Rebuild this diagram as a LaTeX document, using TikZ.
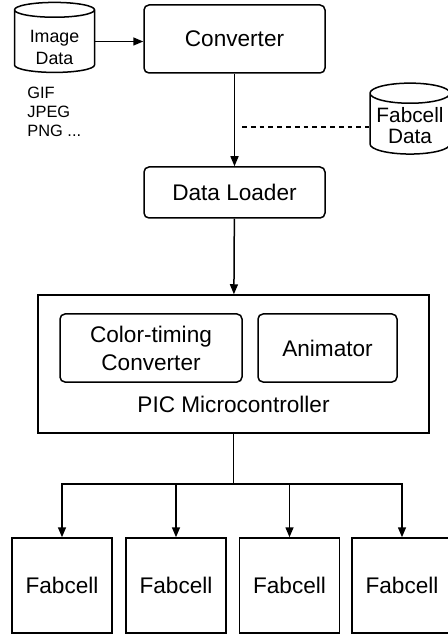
\documentclass[tikz,border=0pt]{standalone}
\usepackage{fontspec}
\setmainfont{Liberation Sans}
\usetikzlibrary{shapes, arrows.meta, positioning}

\tikzset{
    caja/.style={draw, rounded corners=2.5pt, line width=0.75pt, inner sep=0pt,
        align=center, font=\fontsize{11.3}{14}\selectfont},
    celda/.style={draw, line width=0.75pt, inner sep=0pt, minimum width=50pt,
        minimum height=47.5pt, font=\fontsize{11.3}{14}\selectfont},
    datos/.style={draw, cylinder, shape border rotate=90, aspect=0.3,
        line width=0.75pt, inner sep=0pt, align=center, text depth=0pt},
    flecha/.style={-{Triangle[length=5pt,width=4pt]}, line width=0.75pt}
}

\begin{document}
\begin{tikzpicture}[x=0.5pt, y=-0.5pt]
    \useasboundingbox (0,0) rectangle (448,635);
    % Entrada de imagen
    \node[datos, minimum width=40pt, minimum height=33.5pt, text height=23.5pt,
        font=\fontsize{8.9}{11}\selectfont] (img) at (54.5,41.5) {Image\\Data};
    \node[caja, minimum width=90.5pt, minimum height=34pt] (conv) at (234.5,39) {Converter};
    \node[anchor=north west, inner sep=0pt, align=left,
        font=\fontsize{8.2}{9.3}\selectfont] (fmt) at (27,87) {GIF\\JPEG\\PNG ...};
    % Datos de las celdas
    \node[datos, minimum width=40pt, minimum height=31pt, text height=20pt,
        font=\fontsize{10.4}{10.5}\selectfont] (fcd) at (410,124) {Fabcell\\Data};
    \coordinate (enlace) at (242,127);
    % Cargador
    \node[caja, minimum width=90.5pt, minimum height=25.5pt] (carga) at (234.5,192.5) {Data Loader};
    % Microcontrolador
    \node[draw, line width=0.75pt, minimum width=195.5pt, minimum height=69pt,
        inner sep=0pt] (pic) at (233.5,364) {};
    \node[caja, minimum width=91pt, minimum height=34pt] (ctc) at (151,348) {Color-timing\\Converter};
    \node[caja, minimum width=69.5pt, minimum height=34pt] (anim) at (327.5,348) {Animator};
    \node[font=\fontsize{11.3}{14}\selectfont, inner sep=0pt] (etiq) at (233.5,404) {PIC Microcontroller};
    % Celdas
    \node[celda] (c1) at (62,585.5) {Fabcell};
    \node[celda] (c2) at (176,585.5) {Fabcell};
    \node[celda] (c3) at (289.5,585.5) {Fabcell};
    \node[celda] (c4) at (402,585.5) {Fabcell};
    \coordinate (bus) at (233.5,484);

    % Conexiones
    \draw[flecha] (img.east) -- (img.east -| conv.west);
    \draw[flecha] (conv) -- (carga);
    \draw[dashed, dash pattern=on 2.4pt off 2pt, line width=0.75pt] (enlace) -- (enlace -| fcd.west);
    \draw[flecha] (carga) -- (pic);
    \foreach \i in {1,...,4}
        \draw[flecha] (pic.south) -- (bus) -| (c\i);
\end{tikzpicture}
\end{document}
